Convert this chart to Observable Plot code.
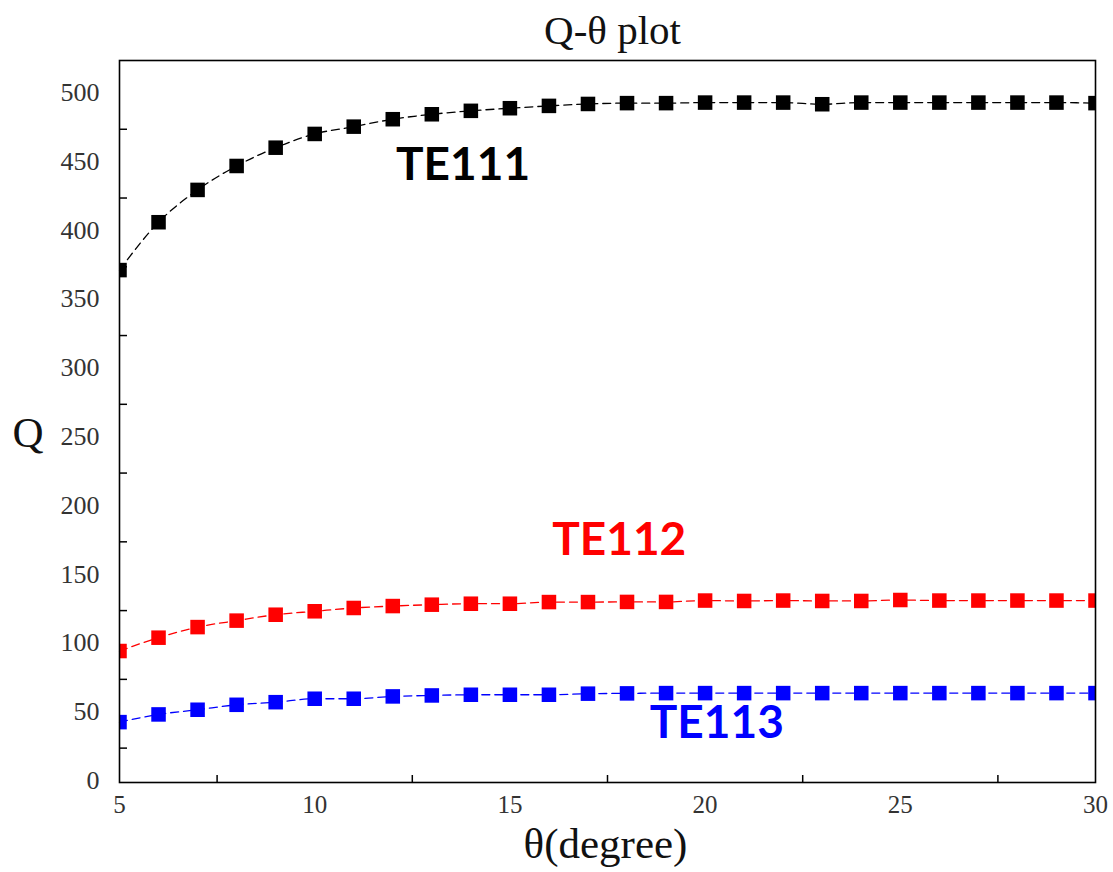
<!DOCTYPE html>
<html>
<head>
<meta charset="utf-8">
<script src="https://cdn.jsdelivr.net/npm/d3@7"></script>
<script src="https://cdn.jsdelivr.net/npm/@observablehq/plot@0.6"></script>
<style>
  body { margin: 0; background: #fff; }
</style>
</head>
<body>
<div id="chart"></div>
<script>
// Incidence angle θ (degrees) and quality factor Q of each resonant mode
const theta = [5, 6, 7, 8, 9, 10, 11, 12, 13, 14, 15, 16, 17, 18, 19, 20, 21, 22, 23, 24, 25, 26, 27, 28, 29, 30];
const qTE111 = [372.6, 407.4, 430.9, 448.3, 461.6, 471.6, 476.9, 482.3, 485.9, 488.4, 490.3, 492.0, 493.4,
                494.0, 494.0, 494.4, 494.4, 494.4, 493.2, 494.4, 494.4, 494.4, 494.4, 494.4, 494.4, 494.0];
const qTE112 = [95.6, 105.3, 113.0, 117.7, 122.0, 124.5, 126.9, 128.3, 129.3, 130.0, 130.0, 131.2, 131.2,
                131.3, 131.3, 132.3, 132.0, 132.3, 132.0, 132.0, 132.7, 132.3, 132.3, 132.3, 132.3, 132.3];
const qTE113 = [43.9, 49.5, 52.9, 56.5, 58.4, 60.9, 60.9, 62.6, 63.3, 63.8, 63.8, 63.8, 64.6,
                64.8, 65.0, 65.0, 65.0, 65.0, 65.0, 65.0, 65.0, 65.0, 65.0, 65.0, 65.0, 65.0];

const modes = ["TE111", "TE112", "TE113"];
const modeColors = ["#000000", "#ff0000", "#0000ff"];

// Where each mode's name is written, in data units
const labelTheta = [13.8, 17.8, 20.3];
const labelQ = [449, 176, 43];

const xTickLabels = [5, 10, 15, 20, 25, 30];
const yTickLabels = [0, 50, 100, 150, 200, 250, 300, 350, 400, 450, 500];
const xTickMarks = [7.5, 12.5, 17.5, 22.5, 27.5];
const yTickMarks = [25, 75, 125, 175, 225, 275, 325, 375, 425, 475];

const seriesQ = [qTE111, qTE112, qTE113];
const rows = modes.flatMap((mode, i) =>
  theta.map((t, j) => ({ theta: t, q: seriesQ[i][j], mode }))
);
const labels = modes.map((mode, i) => ({ mode, theta: labelTheta[i], q: labelQ[i] }));

const W = 1113, H = 872;
const mL = 119, mR = 18, mT = 60, mB = 90;
const innerW = W - mL - mR, innerH = H - mT - mB;
const serif = "'Liberation Serif', 'Times New Roman', serif";

const chart = Plot.plot({
  width: W,
  height: H,
  marginLeft: mL,
  marginRight: mR,
  marginTop: mT,
  marginBottom: mB,
  x: { domain: [5, 30] },
  y: { domain: [0, 525] },
  color: { domain: modes, range: modeColors },
  style: { fontFamily: serif, fontSize: "25px", background: "#fff", color: "#000" },
  marks: [
    Plot.axisX({ ticks: xTickLabels, tickSize: 0, tickPadding: 13, fontSize: 25, fill: "#333", label: null }),
    Plot.axisY({ ticks: yTickLabels, tickSize: 0, tickPadding: 20, fontSize: 26, fill: "#333", label: null, dy: -2 }),
    Plot.tickX(xTickMarks, { x: d => d, insetTop: innerH - 7, stroke: "#000", strokeWidth: 1.5 }),
    Plot.tickY(yTickMarks, { y: d => d, insetRight: innerW - 8, stroke: "#000", strokeWidth: 1.5 }),
    Plot.line(rows, {
      x: "theta", y: "q", z: "mode", stroke: "mode",
      strokeWidth: 1.3, strokeDasharray: "8,5", curve: "monotone-x"
    }),
    Plot.dot(rows, {
      x: "theta", y: "q", fill: "mode", symbol: "square", r: 8.2, stroke: null, clip: true
    }),
    Plot.text(labels, {
      x: "theta", y: "q", text: "mode", fill: "mode",
      fontFamily: "Lato, 'Open Sans', sans-serif", fontWeight: "bold", fontSize: 46
    }),
    Plot.frame({ stroke: "#000", strokeWidth: 1.6 }),
    Plot.text(["Q-θ plot"], {
      frameAnchor: "top", lineAnchor: "bottom", dy: -17, dx: 5, fontSize: 41, fill: "#111"
    }),
    Plot.text(["θ(degree)"], {
      frameAnchor: "bottom", lineAnchor: "bottom", dy: 75, dx: -2, fontSize: 43, fill: "#111"
    }),
    Plot.text(["Q"], {
      frameAnchor: "left", lineAnchor: "middle", textAnchor: "start",
      dx: -107, dy: 12, fontSize: 43, fill: "#111"
    })
  ]
});

document.getElementById("chart").append(chart);
</script>
</body>
</html>
